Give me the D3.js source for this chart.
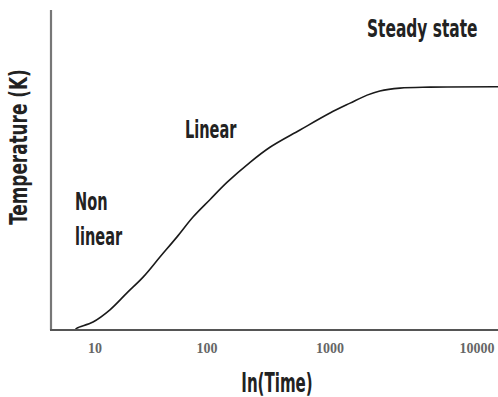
<!DOCTYPE html>
<html>
<head>
<meta charset="utf-8">
<script src="https://cdn.jsdelivr.net/npm/d3@7"></script>
<style>
  body { margin: 0; background: #fff; }
  .lbl { font-family: "DejaVu Sans Condensed", "DejaVu Sans", sans-serif; font-weight: bold; fill: #222; }
  .tick-lbl { font-family: "Liberation Serif", "DejaVu Serif", serif; font-weight: bold; font-size: 14px; fill: #666; }
</style>
</head>
<body>
<svg id="chart" width="498" height="397"></svg>
<script>
// time (s) on log axis, temperature in arbitrary units
const times = [6.6, 6.9, 9.6, 13.6, 19.3, 27, 38, 54, 75, 106, 146, 224, 325, 570, 1000, 1380, 1810, 2220, 3060, 4950, 14700];
const temps = [0, 0.6, 2.5, 6.3, 11.6, 16.6, 22.8, 29.1, 35.3, 40.8, 46.2, 52.4, 57.1, 62.5, 67.8, 70.9, 73.4, 74.7, 75.6, 75.9, 76];
const tickValues = [10, 100, 1000, 10000];
const tickLabels = ["10", "100", "1000", "10000"];

const svg = d3.select("#chart"),
      width = +svg.attr("width"),
      height = +svg.attr("height");

// axis spacing in the original isn't even per decade, so piecewise log
const x = d3.scaleLog()
  .domain(tickValues)
  .range([95, 207, 330, 474]);

const y = d3.scaleLinear()
  .domain([0, 100])
  .range([330, 10]);

const pts = times.map((t, i) => ({ t, v: temps[i] }));

svg.append("clipPath").attr("id", "clip")
  .append("rect").attr("x", 51).attr("y", 0).attr("width", width - 51).attr("height", 331);

//curve
const line = d3.line()
  .x(d => x(d.t))
  .y(d => y(d.v))
  .curve(d3.curveCatmullRom.alpha(0.5));

svg.append("path")
  .datum(pts)
  .attr("clip-path", "url(#clip)")
  .attr("fill", "none")
  .attr("stroke", "#1a1a1a")
  .attr("stroke-width", 1.6)
  .attr("d", line);

//axes lines
svg.append("line")
  .attr("x1", 51).attr("x2", 51)
  .attr("y1", y(100)).attr("y2", y(0))
  .attr("stroke", "#777").attr("stroke-width", 2.2);

svg.append("line")
  .attr("x1", 50).attr("x2", width)
  .attr("y1", y(0)).attr("y2", y(0))
  .attr("stroke", "#555").attr("stroke-width", 2.2);

//tick labels
svg.selectAll("text.tick-lbl")
  .data(tickValues)
  .join("text")
  .attr("class", "tick-lbl")
  .attr("x", (d, i) => x(d) + (i === 3 ? 3 : 0))
  .attr("y", 353)
  .attr("text-anchor", "middle")
  .text((d, i) => tickLabels[i]);

// narrow tall lettering like the original
function label(txt, tx, ty, size, sx, anchor, rot) {
  svg.append("text")
    .attr("class", "lbl")
    .attr("transform", `translate(${tx},${ty})` + (rot ? ` rotate(${rot})` : "") + ` scale(${sx},1)`)
    .attr("text-anchor", anchor || "start")
    .attr("font-size", size)
    .text(txt);
}

label("In(Time)", 277, 392, 27, 0.62, "middle");
label("Temperature (K)", 27, 147, 25, 0.75, "middle", -90);

//region notes
label("Steady state", 367, 37, 24.5, 0.7);
label("Linear", 185, 138, 24.5, 0.66);
label("Non", 75, 210, 24.5, 0.66);
label("linear", 75, 245, 24.5, 0.66);
</script>
</body>
</html>
